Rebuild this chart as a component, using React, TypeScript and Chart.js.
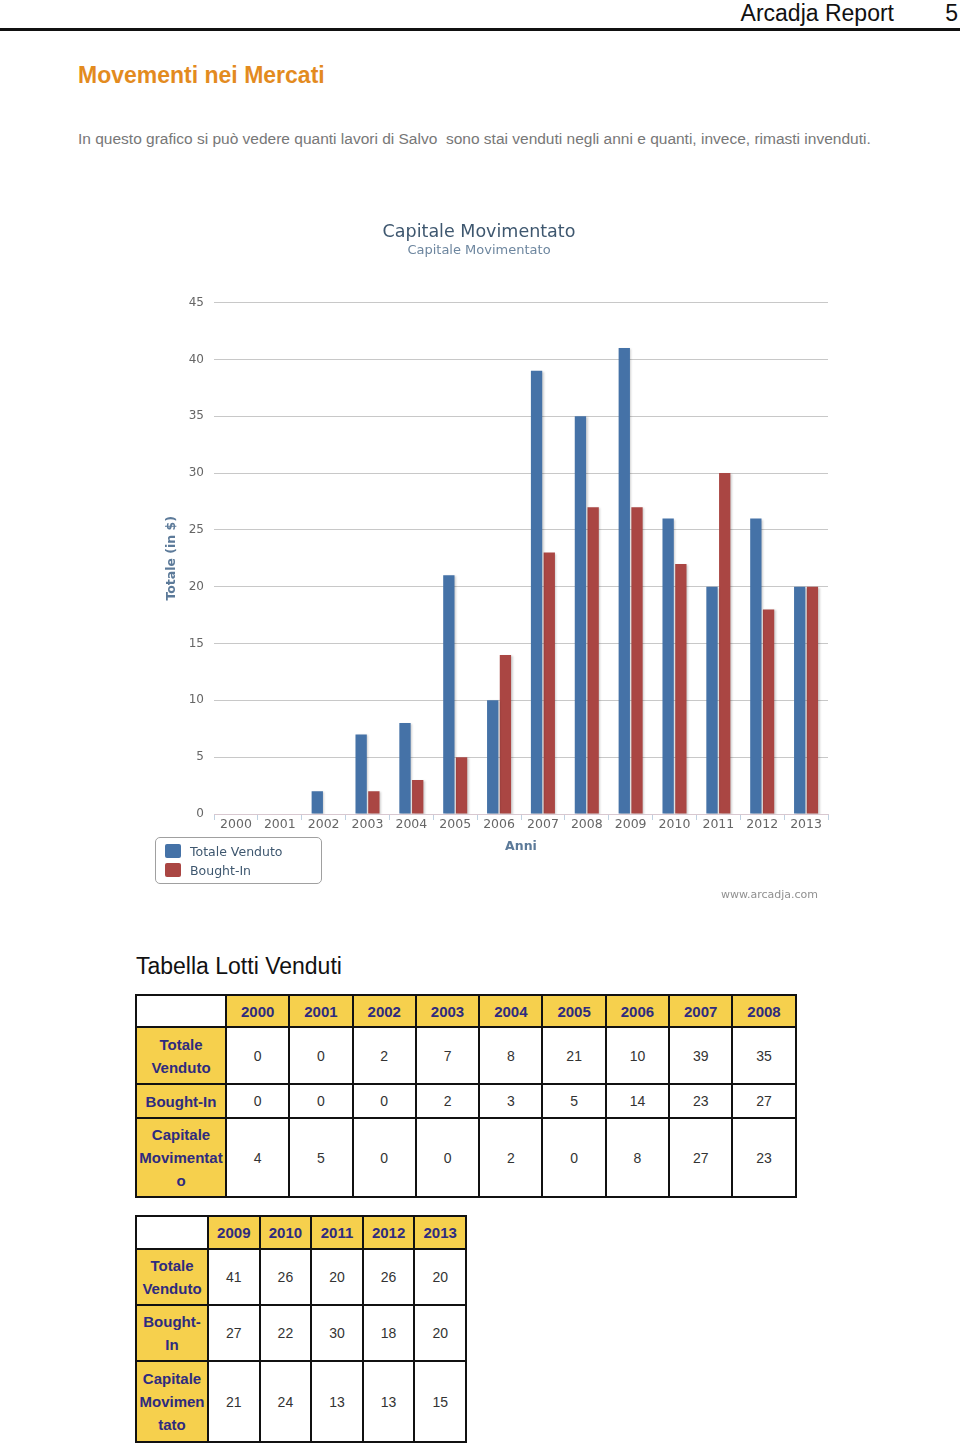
import React, { useEffect, useRef } from "react";
import { Chart, registerables } from "chart.js";

Chart.register(...registerables);

const years = ["2000", "2001", "2002", "2003", "2004", "2005", "2006", "2007", "2008", "2009", "2010", "2011", "2012", "2013"];
const totaleVenduto = [0, 0, 2, 7, 8, 21, 10, 39, 35, 41, 26, 20, 26, 20];
const boughtIn = [0, 0, 0, 2, 3, 5, 14, 23, 27, 27, 22, 30, 18, 20];
const capitaleMovimentato = [4, 5, 0, 0, 2, 0, 8, 27, 23, 21, 24, 13, 13, 15];

const yMin = 0;
const yMax = 45;
const yStep = 5;

const chartTitle = "Capitale Movimentato";
const chartSubtitle = "Capitale Movimentato";
const xTitle = "Anni";
const yTitle = "Totale (in $)";
const seriesNames = ["Totale Venduto", "Bought-In"];
const seriesColors = ["#4572A7", "#AA4643"];
const rowLabels = ["Totale Venduto", "Bought-In", "Capitale Movimentato"];

const table1Years = years.slice(0, 9);
const table2Years = years.slice(9);

const shadowPlugin = {
  id: "barShadow",
  beforeDatasetsDraw(chart: any) {
    const ctx = chart.ctx;
    ctx.save();
    ctx.shadowColor = "rgba(0,0,0,0.18)";
    ctx.shadowOffsetX = 1.5;
    ctx.shadowOffsetY = 1;
    ctx.shadowBlur = 2;
  },
  afterDatasetsDraw(chart: any) {
    chart.ctx.restore();
  },
};

const FONT = "'DejaVu Sans', Verdana, sans-serif";

function BarChart() {
  const ref = useRef<HTMLCanvasElement>(null);
  useEffect(() => {
    if (!ref.current) return;
    const chart = new Chart(ref.current, {
      type: "bar",
      data: {
        labels: years,
        datasets: [
          {
            label: seriesNames[0],
            data: totaleVenduto,
            backgroundColor: seriesColors[0],
            categoryPercentage: 0.58,
            barPercentage: 0.89,
          },
          {
            label: seriesNames[1],
            data: boughtIn,
            backgroundColor: seriesColors[1],
            categoryPercentage: 0.58,
            barPercentage: 0.89,
          },
        ],
      },
      plugins: [shadowPlugin],
      options: {
        animation: false,
        responsive: false,
        maintainAspectRatio: false,
        layout: { padding: { left: 0, right: 2, top: 0, bottom: 56 } },
        plugins: {
          legend: { display: false },
          tooltip: { enabled: false },
          title: {
            display: true,
            text: chartTitle,
            color: "#3E576F",
            font: { family: FONT, size: 17.5, weight: "normal" },
            padding: { top: 12, bottom: 0 },
          },
          subtitle: {
            display: true,
            text: chartSubtitle,
            color: "#6D869F",
            font: { family: FONT, size: 13, weight: "normal" },
            padding: { top: 0, bottom: 44 },
          },
        },
        scales: {
          x: {
            grid: {
              drawOnChartArea: false,
              color: "#C0D0E0",
              tickLength: 6,
              offset: true,
            },
            border: { color: "#D8C8D0", width: 1 },
            ticks: {
              color: "#666",
              font: { family: FONT, size: 12.5 },
              padding: -3,
              maxRotation: 0,
              autoSkip: false,
            },
            title: {
              display: true,
              text: xTitle,
              color: "#5C7A99",
              font: { family: FONT, size: 12.5, weight: "bold" },
              padding: { top: 10, bottom: 0 },
            },
          },
          y: {
            min: yMin,
            max: yMax,
            ticks: {
              stepSize: yStep,
              padding: 10,
              color: "#666",
              font: { family: FONT, size: 12 },
            },
            grid: { color: "#C8C8C8", drawTicks: false },
            border: { display: false },
            title: {
              display: true,
              text: yTitle,
              color: "#5C7A99",
              font: { family: FONT, size: 12.5, weight: "bold" },
              padding: { top: 34, bottom: 0 },
            },
            afterFit: (s: any) => {
              s.width = 84;
            },
          },
        },
      },
    } as any);
    return () => chart.destroy();
  }, []);
  return <canvas ref={ref} width={700} height={700} style={{ position: "absolute", left: 130, top: 210, width: 700, height: 700 }} />;
}

const yellow = "#F6D04D";
const navy = "#2E2B7F";

function DataTable({ cols, start, firstWidth, colWidth, rowHeights, left, top }: any) {
  const values = [totaleVenduto, boughtIn, capitaleMovimentato];
  const cellBorder = "2px solid #111";
  const th: React.CSSProperties = {
    background: yellow,
    color: navy,
    fontWeight: "bold",
    fontSize: 15,
    lineHeight: "23px",
    border: cellBorder,
    padding: "0 1px",
    textAlign: "center",
    overflowWrap: "anywhere",
    wordBreak: "normal",
  };
  const td: React.CSSProperties = {
    background: "#fff",
    color: "#333",
    fontSize: 14,
    border: cellBorder,
    textAlign: "center",
    padding: 0,
  };
  return (
    <table
      style={{
        position: "absolute",
        left,
        top,
        borderCollapse: "collapse",
        tableLayout: "fixed",
        width: firstWidth + colWidth * cols.length,
        fontFamily: "'Liberation Sans', Arial, sans-serif",
        border: "2.5px solid #111",
      }}
    >
      <colgroup>
        <col style={{ width: firstWidth }} />
        {cols.map((c: string) => (
          <col key={c} style={{ width: colWidth }} />
        ))}
      </colgroup>
      <tbody>
        <tr style={{ height: rowHeights[0] }}>
          <th style={{ ...th, background: "#fff" }}></th>
          {cols.map((c: string) => (
            <th key={c} style={th}>{c}</th>
          ))}
        </tr>
        {rowLabels.map((lab, r) => (
          <tr key={lab} style={{ height: rowHeights[r + 1] }}>
            <th style={th}>{lab}</th>
            {cols.map((c: string, i: number) => (
              <td key={c} style={td}>{values[r][start + i]}</td>
            ))}
          </tr>
        ))}
      </tbody>
    </table>
  );
}

export default function App() {
  return (
    <div
      style={{
        position: "absolute",
        left: 0,
        top: 0,
        width: 960,
        height: 1444,
        overflow: "hidden",
        background: "#fff",
        fontFamily: "'Liberation Sans', Arial, sans-serif",
      }}
    >
      <div style={{ position: "absolute", right: 66, top: 0, fontSize: 23, lineHeight: "26px", color: "#111" }}>Arcadja Report</div>
      <div style={{ position: "absolute", right: 2, top: 0, fontSize: 23, lineHeight: "26px", color: "#111" }}>5</div>
      <div style={{ position: "absolute", left: 0, top: 28, width: 960, height: 3, background: "#111" }} />
      <div style={{ position: "absolute", left: 78, top: 61, fontSize: 23, lineHeight: "28px", fontWeight: "bold", color: "#E38B1F" }}>
        Movementi nei Mercati
      </div>
      <div style={{ position: "absolute", left: 78, top: 130, fontSize: 15.5, lineHeight: "18px", color: "#777", whiteSpace: "pre" }}>
        {"In questo grafico si può vedere quanti lavori di Salvo  sono stai venduti negli anni e quanti, invece, rimasti invenduti."}
      </div>

      <BarChart />

      <div
        style={{
          position: "absolute",
          left: 155,
          top: 837,
          width: 165,
          height: 45,
          border: "1px solid #A0A0A0",
          borderRadius: 5,
          fontFamily: FONT,
          fontSize: 12.5,
          color: "#3E576F",
        }}
      >
        {seriesNames.map((n, i) => (
          <div key={n} style={{ position: "absolute", left: 9, top: 5 + i * 19, height: 16, display: "flex", alignItems: "center" }}>
            <span style={{ display: "inline-block", width: 16, height: 14, borderRadius: 2, background: seriesColors[i], marginRight: 9 }} />
            <span>{n}</span>
          </div>
        ))}
      </div>
      <div style={{ position: "absolute", right: 142, top: 888, fontFamily: FONT, fontSize: 11, lineHeight: "14px", color: "#909090" }}>
        www.arcadja.com
      </div>

      <div style={{ position: "absolute", left: 136, top: 952, fontSize: 23, lineHeight: "28px", color: "#111" }}>Tabella Lotti Venduti</div>

      <DataTable cols={table1Years} start={0} firstWidth={90} colWidth={63.3} rowHeights={[32, 57, 34, 79]} left={135} top={994} />
      <DataTable cols={table2Years} start={9} firstWidth={72} colWidth={51.6} rowHeights={[33, 56, 56, 81]} left={135} top={1215} />
    </div>
  );
}
